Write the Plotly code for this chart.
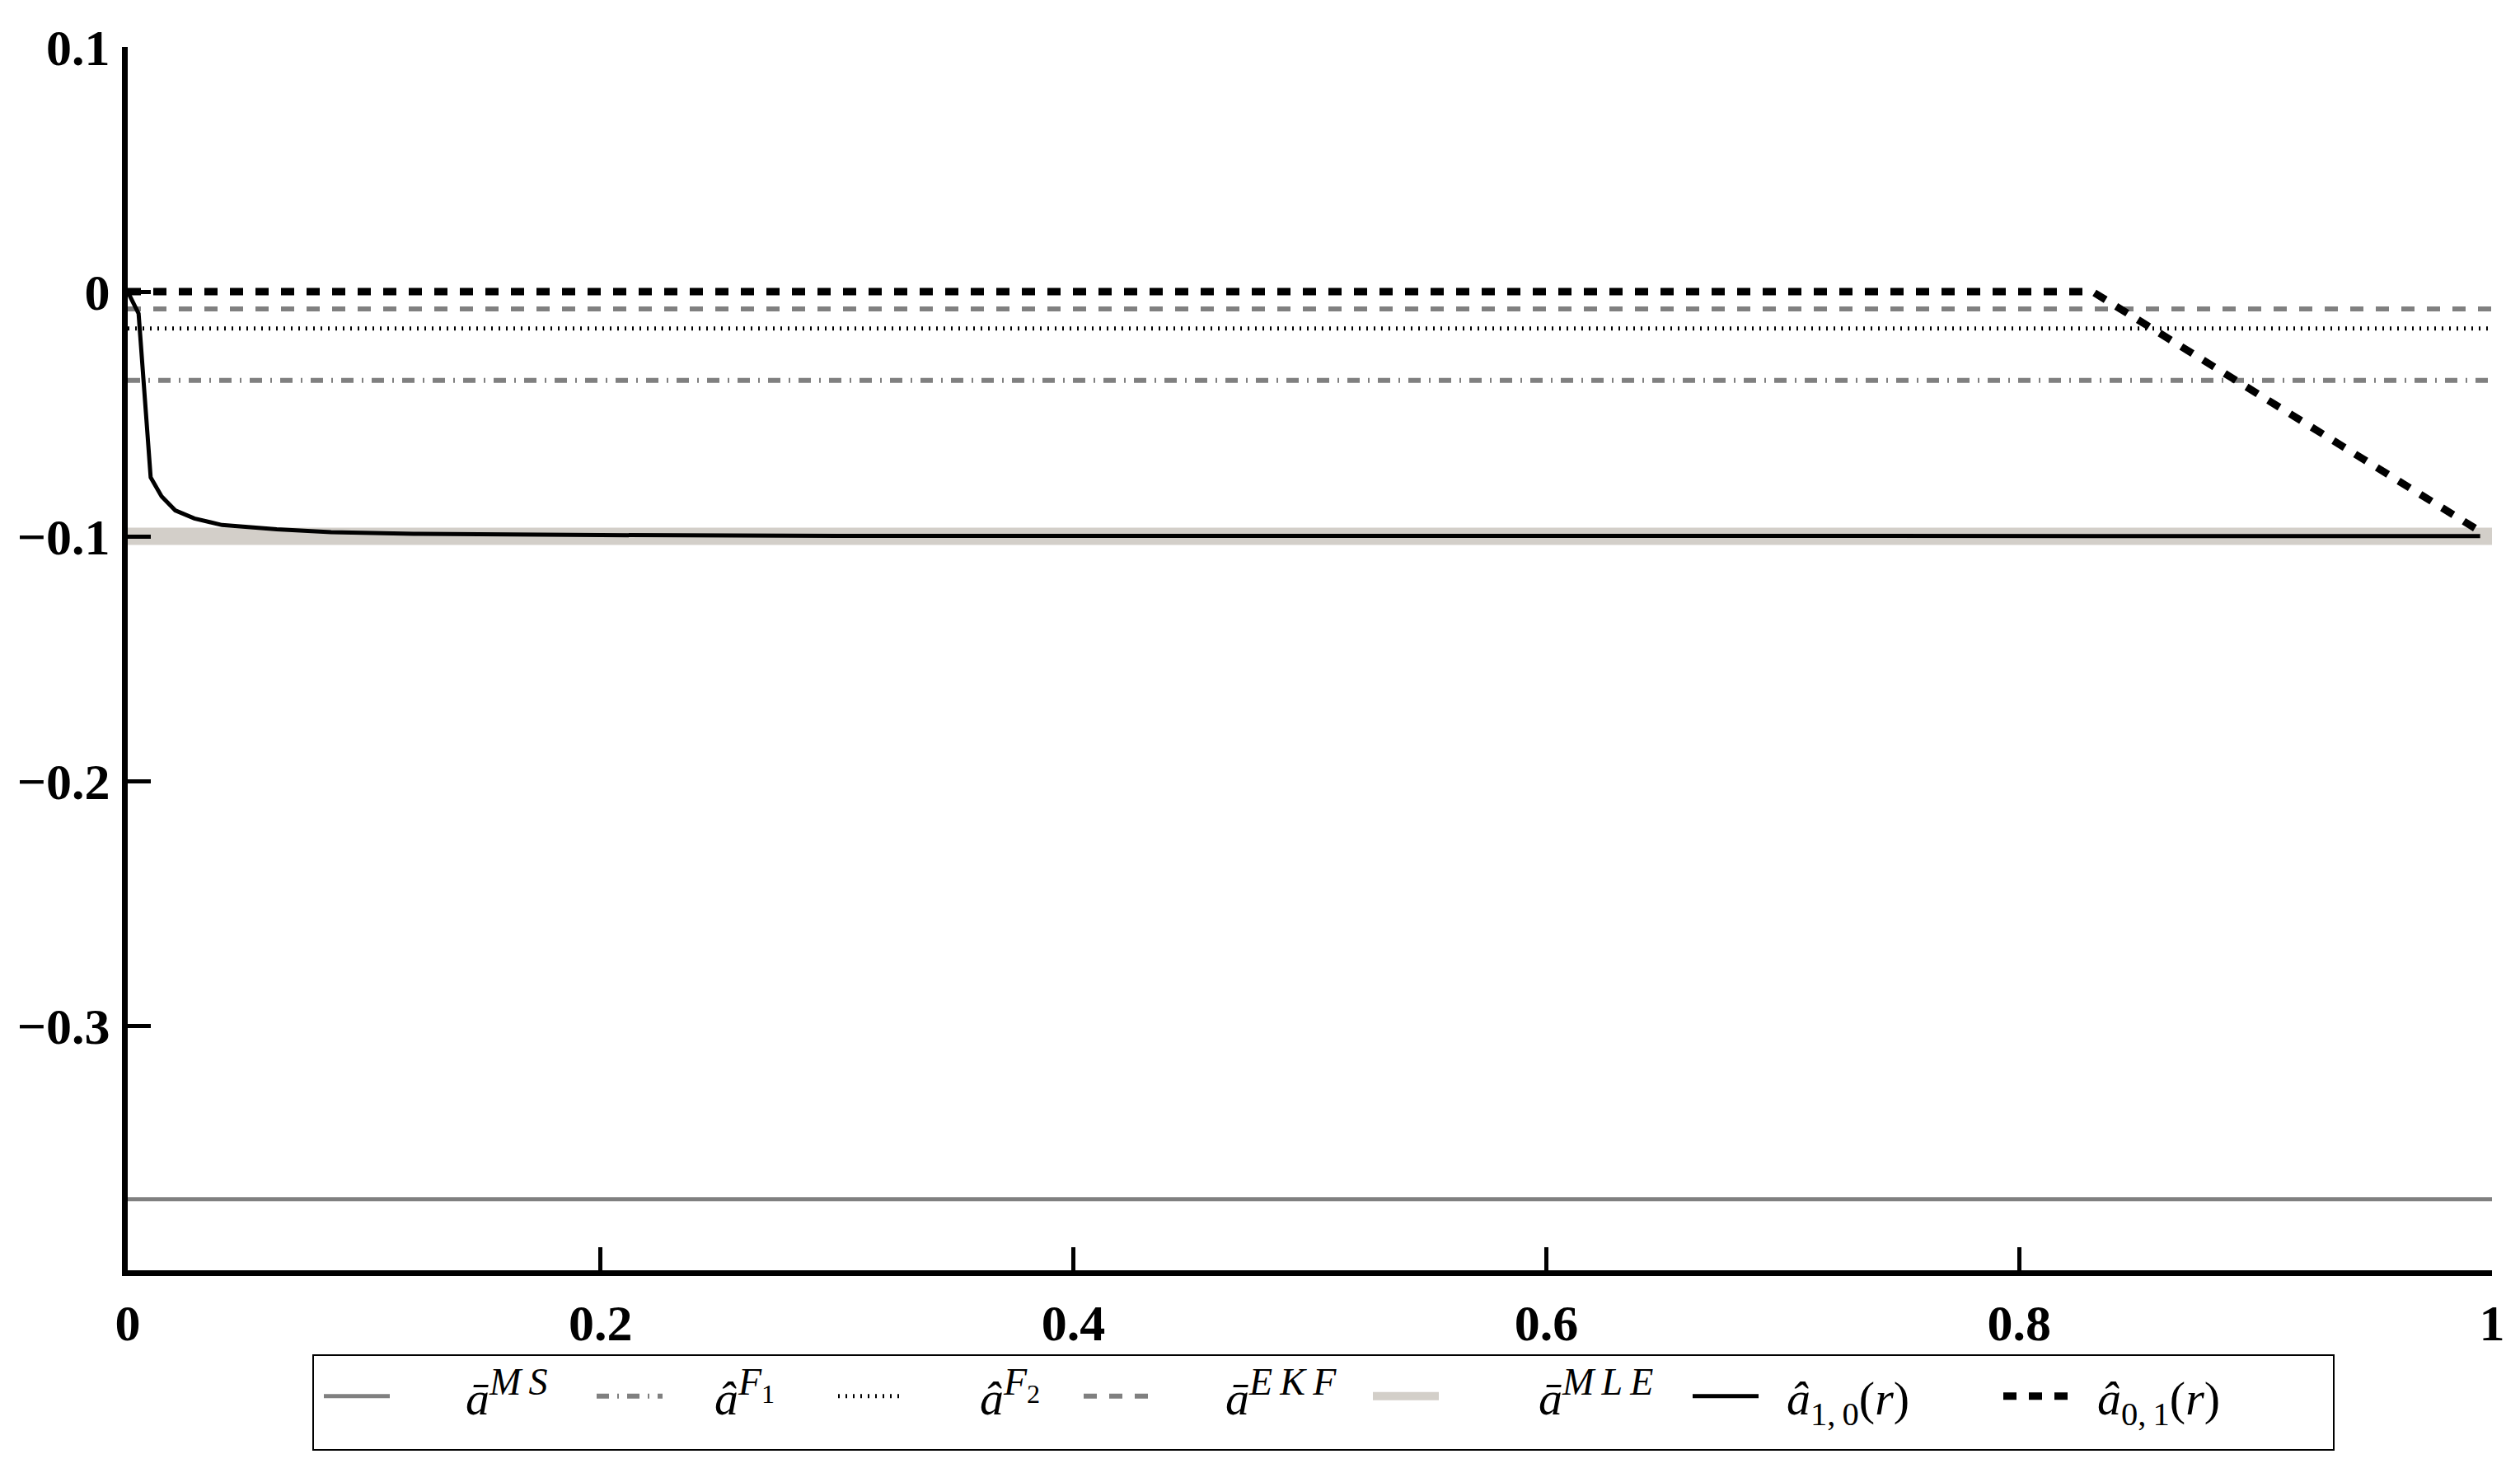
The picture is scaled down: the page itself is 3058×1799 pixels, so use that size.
import plotly.graph_objects as go

# constant reference levels (drawn across the whole r range)
r_const = [0, 1]
a_ms = -0.371
a_f1 = -0.0363
a_f2 = -0.0151
a_ekf = -0.0071
a_mle = -0.1

# recursive estimate a_1,0(r)
r_10 = [0, 0.0046, 0.0097, 0.0143, 0.0201, 0.0282, 0.0399, 0.063, 0.086, 0.121, 0.2, 0.3, 0.995]
a_10 = [0, -0.009, -0.0759, -0.0837, -0.0894, -0.0927, -0.0954, -0.0971, -0.0983, -0.099, -0.0995, -0.0998, -0.0999]

# recursive estimate a_0,1(r)
r_01 = [0, 0.831, 0.995]
a_01 = [0, 0, -0.098]

x_ticks = [0, 0.2, 0.4, 0.6, 0.8, 1]
x_labels = ["0", "0.2", "0.4", "0.6", "0.8", "1"]
y_ticks = [-0.3, -0.2, -0.1, 0, 0.1]
y_labels = ["\u22120.3", "\u22120.2", "\u22120.1", "0", "0.1"]

# legend entries are spread like the original (one small legend per entry)
leg_x = [400, 731, 1024, 1322, 1673, 2061, 2438]   # px of symbol start
leg_pad = [3, 2, 3, 3, 4, 1, 1]                     # en spaces before label

EN = "\u2002"


def sup(t):
    return "<sup><span style='font-size:46px'>" + t + "</span></sup>"


names = [
    "<i>ā</i>" + sup("<i>M\u2009S</i>"),
    "<i>â</i>" + sup("<i>F</i><sub>1</sub>"),
    "<i>â</i>" + sup("<i>F</i><sub>2</sub>"),
    "<i>ā</i>" + sup("<i>E\u2009K\u2009F</i>"),
    "<i>ā</i>" + sup("<i>M\u2009L\u2009E</i>"),
    "<i>â</i><sub>1,\u20090</sub>(<i>r</i>)",
    "<i>â</i><sub>0,\u20091</sub>(<i>r</i>)",
]
names = [EN * p + n for p, n in zip(leg_pad, names)]
leg_ids = ["legend"] + ["legend%d" % i for i in range(2, 8)]

fig = go.Figure()
fig.add_trace(go.Scatter(
    x=r_const, y=[a_ms, a_ms], mode="lines",
    line=dict(color="#808080", width=5),
    name=names[0], legend=leg_ids[0]
))
fig.add_trace(go.Scatter(
    x=r_const, y=[a_f1, a_f1], mode="lines",
    line=dict(color="#808080", width=6, dash="15px,10px,2px,10px"),
    name=names[1], legend=leg_ids[1]
))
fig.add_trace(go.Scatter(
    x=r_const, y=[a_f2, a_f2], mode="lines",
    line=dict(color="black", width=5, dash="2px,7px"),
    name=names[2], legend=leg_ids[2]
))
fig.add_trace(go.Scatter(
    x=r_const, y=[a_ekf, a_ekf], mode="lines",
    line=dict(color="#808080", width=6, dash="16px,15px"),
    name=names[3], legend=leg_ids[3]
))
fig.add_trace(go.Scatter(
    x=r_const, y=[a_mle, a_mle], mode="lines",
    line=dict(color="#d3cfc9", width=21),
    name=names[4], legend=leg_ids[4]
))
fig.add_trace(go.Scatter(
    x=r_10, y=a_10, mode="lines",
    line=dict(color="black", width=5),
    name=names[5], legend=leg_ids[5]
))
fig.add_trace(go.Scatter(
    x=r_01, y=a_01, mode="lines",
    line=dict(color="black", width=9, dash="16px,15px"),
    name=names[6], legend=leg_ids[6]
))

W, H = 3058, 1799
OFF = 8  # page offset of the plot div
ml, mr, mt, mb = 155 - OFF, 34 + OFF, 57 - OFF, 257 + OFF
pw, ph = W - ml - mr, H - mt - mb

legends = {}
for lid, lx in zip(leg_ids, leg_x):
    legends[lid] = dict(
        orientation="h",
        xref="container",
        yref="container",
        x=(lx - 20) / W,
        y=1 - 1687 / H,
        xanchor="left",
        yanchor="middle",
        borderwidth=0,
        bgcolor="rgba(0,0,0,0)",
        itemwidth=80,
        font=dict(family="Liberation Serif", size=58, color="black")
    )

fig.update_layout(
    width=W,
    height=H,
    paper_bgcolor="white",
    plot_bgcolor="white",
    margin=dict(l=ml, r=mr, t=mt, b=mb, pad=0),
    font=dict(family="Liberation Serif", color="black"),
    xaxis=dict(
        range=[0, 1],
        tickvals=x_ticks,
        ticktext=x_labels,
        automargin=False,
        showgrid=False,
        zeroline=False,
        showline=True,
        linecolor="black",
        linewidth=7,
        ticks="inside",
        ticklen=28,
        tickwidth=5,
        tickcolor="black",
        ticklabelstandoff=4,
        tickfont=dict(family="Liberation Serif", size=62, weight="bold")
    ),
    yaxis=dict(
        range=[-0.4, 0.1],
        tickvals=y_ticks,
        ticktext=y_labels,
        automargin=False,
        showgrid=False,
        zeroline=False,
        showline=True,
        linecolor="black",
        linewidth=7,
        ticks="inside",
        ticklen=28,
        tickwidth=5,
        tickcolor="black",
        ticklabelstandoff=2,
        tickfont=dict(family="Liberation Serif", size=62, weight="bold")
    ),
    showlegend=True,
    # frame around the legend entries
    shapes=[dict(
        type="rect",
        xref="paper", yref="paper",
        x0=(380 - OFF - ml) / pw, x1=(2832 - OFF - ml) / pw,
        y0=(H - mb - (1760 - OFF)) / ph, y1=(H - mb - (1645 - OFF)) / ph,
        line=dict(color="black", width=2),
        fillcolor="rgba(0,0,0,0)",
        layer="above"
    )],
    **legends
)

fig.write_html("out.html")
